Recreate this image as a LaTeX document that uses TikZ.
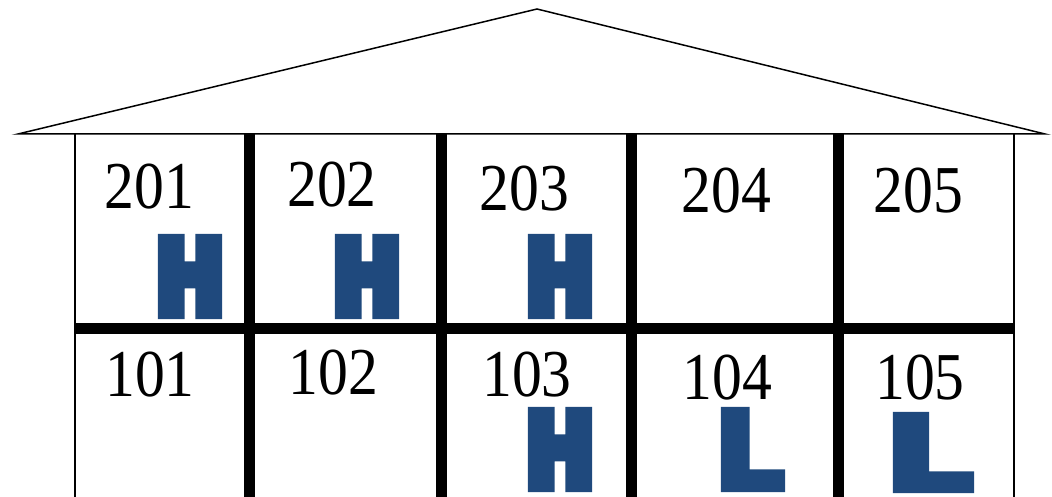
\documentclass[tikz,border=0pt]{standalone}
\usepackage{fontspec}
\usepackage{graphicx}
\setmainfont{Liberation Serif}
\newfontfamily\numfont{Liberation Serif}[FakeStretch=0.89]
\IfFontExistsTF{DejaVu Sans Condensed Bold}
  {\newfontfamily\hfont{DejaVu Sans Condensed Bold}[FakeBold=13]
   \newfontfamily\lfont{DejaVu Sans Condensed Bold}[FakeBold=7]}
  {\newfontfamily\hfont{DejaVu Sans Bold}[FakeBold=13]
   \newfontfamily\lfont{DejaVu Sans Bold}[FakeBold=7]}
\definecolor{hblue}{RGB}{31,73,125}
\newbox\glyphbox
% #1 font switch, #2 stroke width (pt at 10pt), #3 ink width, #4 ink height, #5 letter
\newcommand\blk[5]{%
  \begingroup#1%
  \setbox\glyphbox=\hbox{\kern-\XeTeXglyphbounds1 \XeTeXcharglyph`#5 #5\kern-\XeTeXglyphbounds3 \XeTeXcharglyph`#5 }%
  \edef\gw{\the\wd\glyphbox}\edef\gh{\the\ht\glyphbox}%
  \pgfmathsetlengthmacro\bw{#3*\gw/(\gw+#2)}%
  \pgfmathsetlengthmacro\bh{#4*\gh/(\gh+#2)}%
  \resizebox{\bw}{\bh}{\box\glyphbox}%
  \endgroup}
\newcommand\bigH{\blk{\hfont}{1.3}{64}{85}{H}}
\begin{document}
\begin{tikzpicture}[x=1pt,y=-1pt,
  thinline/.style={line width=1.5pt},
  wallthick/.style={line width=11pt},
  num/.style={font=\numfont\fontsize{67}{70}\selectfont, inner sep=0pt, anchor=base},
  letter/.style={inner sep=0pt, text=hblue}]
\useasboundingbox (0,0) rectangle (1052,497);
% roof
\draw[thinline, line join=miter] (18,134) -- (537,9) -- (1045,134) -- cycle;
% outer walls
\draw[thinline] (75,134) -- (75,497);
\draw[thinline] (1014,134) -- (1014,497);
% inner walls
\draw[wallthick] (249.5,134) -- (249.5,497);
\draw[wallthick] (441,134) -- (441,497);
\draw[wallthick] (631.5,134) -- (631.5,497);
\draw[wallthick] (838.5,134) -- (838.5,497);
\draw[line width=11.5pt] (75,328.5) -- (1014,328.5);
% room numbers
\node[num] (n201) at (149.5,209) {201};
\node[num] (n202) at (332,207) {202};
\node[num] (n203) at (524.5,211) {203};
\node[num] (n204) at (726.5,213) {204};
\node[num] (n205) at (918.5,213) {205};
\node[num] (n101) at (150,396) {101};
\node[num] (n102) at (333.5,394) {102};
\node[num] (n103) at (527,396) {103};
\node[num] (n104) at (727.5,399) {104};
\node[num] (n105) at (920,399) {105};
% letters (centred on their ink boxes)
\node[letter] (h201) at (190,276.5) {\bigH};
\node[letter] (h202) at (367,276.5) {\bigH};
\node[letter] (h203) at (560,276.5) {\bigH};
\node[letter] (h103) at (560,449.5) {\bigH};
\node[letter] (l104) at (753,449.5) {\blk{\lfont}{0.7}{64}{85}{L}};
\node[letter] (l105) at (933.5,452.5) {\blk{\lfont}{0.7}{81}{81}{L}};
\end{tikzpicture}
\end{document}
